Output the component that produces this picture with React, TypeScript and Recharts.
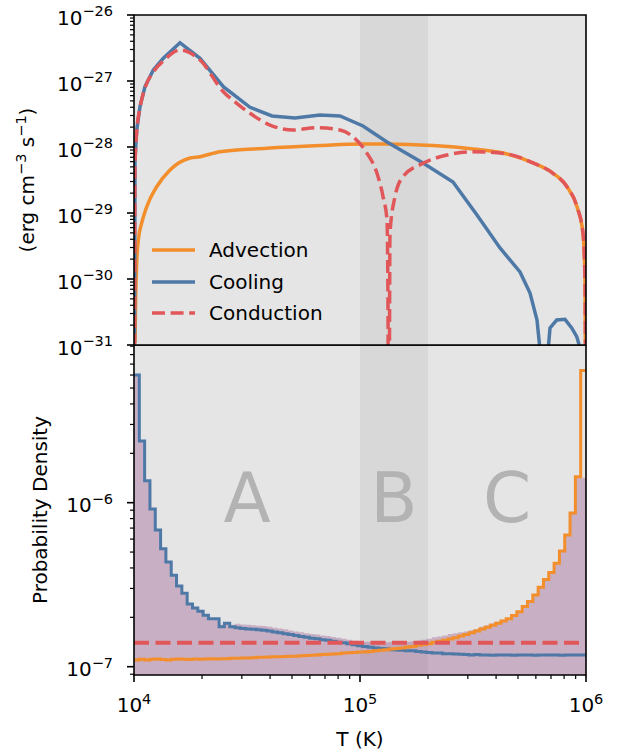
import React from 'react';
import {
  ComposedChart,
  Line,
  Area,
  XAxis,
  YAxis,
  CartesianGrid,
  ReferenceArea,
  ReferenceDot,
  Legend,
} from 'recharts';

const FONT = '"DejaVu Sans", sans-serif';
const BLUE = '#4e79a7';
const ORANGE = '#f28e2b';
const RED = '#e15759';
const BG = '#e5e5e5';
const BAND = '#d8d8d8';

// ---- top panel: heating / cooling rates ----
const ADV_T = [1.0102e4, 1.0175e4, 1.0279e4, 1.0448e4, 1.0816e4, 1.138e4, 1.2598e4, 1.4429e4, 1.7697e4, 1.959e4, 2.4022e4, 3.866e4, 6.653e4, 1e5, 1.3163e5, 2.104e5, 3.1623e5, 4.472e5, 5.829e5, 7.146e5, 8.238e5, 9.125e5, 9.699e5, 9.899e5, 1e6];
const ADV_V = [1.07e-31, 5.33e-31, 1.75e-30, 3.9e-30, 7.05e-30, 1.24e-29, 2.5e-29, 4.49e-29, 6.81e-29, 7.13e-29, 8.49e-29, 9.55e-29, 1.05e-28, 1.11e-28, 1.11e-28, 1.05e-28, 9.33e-29, 7.84e-29, 5.73e-29, 4.0e-29, 2.5e-29, 1.24e-29, 4.92e-30, 9.66e-31, 1e-33];

const COOL_T = [1.002e4, 1.0102e4, 1.0279e4, 1.063e4, 1.1184e4, 1.2175e4, 1.348e4, 1.5974e4, 1.959e4, 2.4843e4, 3.2614e4, 4.08e4, 5.158e4, 6.653e4, 8.156e4, 1.031e5, 1.3163e5, 1.9002e5, 2.579e5, 3.2935e5, 4.164e5, 5.105e5, 5.653e5, 6.071e5, 6.323e5, 6.586e5, 6.79e5, 6.931e5, 7.421e5, 8.074e5, 8.646e5, 9.099e5, 9.407e5, 9.699e5];
const COOL_V = [1e-33, 6.36e-29, 1.81e-28, 4.08e-28, 8.2e-28, 1.47e-27, 2.21e-27, 3.8e-27, 2.21e-27, 8.2e-28, 4.0e-28, 2.95e-28, 2.75e-28, 3.05e-28, 2.95e-28, 2.08e-28, 1.19e-28, 5.73e-29, 2.95e-29, 9.33e-30, 2.95e-30, 1.28e-30, 6.14e-31, 2.39e-31, 6e-32, 1e-33, 8e-32, 1.81e-31, 2.39e-31, 2.45e-31, 1.81e-31, 1.34e-31, 9e-32, 1e-33];

const COND_T = [1.002e4, 1.0102e4, 1.0279e4, 1.063e4, 1.1184e4, 1.2175e4, 1.348e4, 1.5974e4, 1.959e4, 2.4843e4, 2.848e4, 3.2614e4, 3.998e4, 5.07e4, 6.452e4, 8.156e4, 9.311e4, 1.0739e5, 1.1891e5, 1.2645e5, 1.3163e5, 1.3298e5, 1.3366e5, 1.3434e5, 1.3572e5, 1.4284e5, 1.5501e5, 1.9002e5, 2.4266e5, 3.1623e5, 4.472e5, 5.829e5, 7.146e5, 8.238e5, 9.125e5, 9.699e5, 9.899e5, 1e6];
const COND_V = [1e-33, 5.33e-29, 1.69e-28, 3.9e-28, 7.84e-28, 1.37e-27, 2.01e-27, 2.95e-27, 2.08e-27, 6.89e-28, 4.59e-28, 3.24e-28, 2.15e-28, 1.81e-28, 1.96e-28, 1.81e-28, 1.43e-28, 8.03e-29, 4.0e-29, 1.77e-29, 7.84e-30, 4.81e-31, 1e-33, 1e-33, 4.92e-30, 1.77e-29, 3.55e-29, 5.66e-29, 7.56e-29, 8.49e-29, 7.84e-29, 5.73e-29, 4.0e-29, 2.5e-29, 1.24e-29, 4.92e-30, 9.66e-31, 1e-33];

const TOP_TICKS = [
  1e-31, 2e-31, 3e-31, 4e-31, 5e-31, 6e-31, 7e-31, 8e-31, 9e-31,
  1e-30, 2e-30, 3e-30, 4e-30, 5e-30, 6e-30, 7e-30, 8e-30, 9e-30,
  1e-29, 2e-29, 3e-29, 4e-29, 5e-29, 6e-29, 7e-29, 8e-29, 9e-29,
  1e-28, 2e-28, 3e-28, 4e-28, 5e-28, 6e-28, 7e-28, 8e-28, 9e-28,
  1e-27, 2e-27, 3e-27, 4e-27, 5e-27, 6e-27, 7e-27, 8e-27, 9e-27,
  1e-26,
];

// ---- bottom panel: probability density histograms (85 log bins) ----
const N_BINS = 85;
const BIN_EDGES = Array.from({ length: N_BINS + 1 }, (_, i) => 10 ** (4 + (2 * i) / N_BINS));

const COOL_HIST = [
  6.0e-6, 2.38e-6, 1.36e-6, 9.15e-7, 6.82e-7, 5.24e-7, 4.35e-7, 3.61e-7, 3.11e-7, 2.8e-7,
  2.41e-7, 2.28e-7, 2.18e-7, 2.06e-7, 1.96e-7, 1.96e-7, 1.75e-7, 1.84e-7, 1.75e-7, 1.73e-7,
  1.71e-7, 1.7e-7, 1.69e-7, 1.68e-7, 1.67e-7, 1.65e-7, 1.63e-7, 1.61e-7, 1.59e-7, 1.57e-7,
  1.55e-7, 1.53e-7, 1.51e-7, 1.49e-7, 1.48e-7, 1.46e-7, 1.45e-7, 1.43e-7, 1.41e-7, 1.4e-7,
  1.38e-7, 1.36e-7, 1.34e-7, 1.33e-7, 1.315e-7, 1.3e-7, 1.29e-7, 1.285e-7, 1.27e-7, 1.265e-7,
  1.26e-7, 1.25e-7, 1.25e-7, 1.24e-7, 1.23e-7, 1.22e-7, 1.21e-7, 1.21e-7, 1.2e-7, 1.2e-7,
  1.195e-7, 1.19e-7, 1.185e-7, 1.18e-7, 1.185e-7, 1.18e-7, 1.18e-7, 1.175e-7, 1.18e-7, 1.18e-7,
  1.18e-7, 1.175e-7, 1.18e-7, 1.18e-7, 1.18e-7, 1.175e-7, 1.18e-7, 1.18e-7, 1.18e-7, 1.18e-7,
  1.175e-7, 1.18e-7, 1.18e-7, 1.18e-7, 1.18e-7,
];
const ADV_HIST = [
  1.1e-7, 1.11e-7, 1.1e-7, 1.11e-7, 1.115e-7, 1.105e-7, 1.1e-7, 1.11e-7, 1.115e-7, 1.11e-7,
  1.105e-7, 1.115e-7, 1.11e-7, 1.115e-7, 1.12e-7, 1.115e-7, 1.12e-7, 1.12e-7, 1.125e-7, 1.125e-7,
  1.13e-7, 1.13e-7, 1.135e-7, 1.14e-7, 1.14e-7, 1.145e-7, 1.15e-7, 1.15e-7, 1.155e-7, 1.16e-7,
  1.16e-7, 1.165e-7, 1.17e-7, 1.175e-7, 1.18e-7, 1.185e-7, 1.19e-7, 1.195e-7, 1.2e-7, 1.21e-7,
  1.215e-7, 1.22e-7, 1.23e-7, 1.23e-7, 1.24e-7, 1.25e-7, 1.26e-7, 1.27e-7, 1.28e-7, 1.29e-7,
  1.3e-7, 1.32e-7, 1.33e-7, 1.35e-7, 1.365e-7, 1.38e-7, 1.41e-7, 1.43e-7, 1.45e-7, 1.475e-7,
  1.5e-7, 1.54e-7, 1.57e-7, 1.61e-7, 1.65e-7, 1.7e-7, 1.74e-7, 1.79e-7, 1.84e-7, 1.9e-7,
  1.96e-7, 2.05e-7, 2.16e-7, 2.33e-7, 2.5e-7, 2.74e-7, 3.05e-7, 3.4e-7, 3.75e-7, 4.27e-7,
  5.07e-7, 6.35e-7, 8.66e-7, 1.44e-6, 6.4e-6,
];
const ALL_HIST = [
  6.0e-6, 2.38e-6, 1.36e-6, 9.15e-7, 6.82e-7, 5.24e-7, 4.35e-7, 3.61e-7, 3.11e-7, 2.8e-7,
  2.41e-7, 2.28e-7, 2.18e-7, 2.06e-7, 1.97e-7, 1.97e-7, 1.8e-7, 1.86e-7, 1.8e-7, 1.83e-7,
  1.81e-7, 1.8e-7, 1.79e-7, 1.78e-7, 1.77e-7, 1.75e-7, 1.73e-7, 1.71e-7, 1.69e-7, 1.66e-7,
  1.64e-7, 1.62e-7, 1.6e-7, 1.58e-7, 1.57e-7, 1.55e-7, 1.54e-7, 1.52e-7, 1.5e-7, 1.48e-7,
  1.46e-7, 1.44e-7, 1.43e-7, 1.42e-7, 1.42e-7, 1.41e-7, 1.41e-7, 1.41e-7, 1.42e-7, 1.42e-7,
  1.42e-7, 1.42e-7, 1.43e-7, 1.44e-7, 1.46e-7, 1.48e-7, 1.51e-7, 1.53e-7, 1.55e-7, 1.58e-7,
  1.6e-7, 1.62e-7, 1.64e-7, 1.67e-7, 1.7e-7, 1.75e-7, 1.79e-7, 1.84e-7, 1.88e-7, 1.93e-7,
  1.98e-7, 2.06e-7, 2.17e-7, 2.33e-7, 2.5e-7, 2.74e-7, 3.05e-7, 3.4e-7, 3.75e-7, 4.27e-7,
  5.07e-7, 6.35e-7, 8.66e-7, 1.42e-6, 1.42e-6,
];
const COND_LEVEL = 1.4e-7;

const BOTTOM_DOMAIN = [8.9e-8, 9.15e-6];
const BOTTOM_TICKS = [
  9e-8,
  1e-7, 2e-7, 3e-7, 4e-7, 5e-7, 6e-7, 7e-7, 8e-7, 9e-7,
  1e-6, 2e-6, 3e-6, 4e-6, 5e-6, 6e-6, 7e-6, 8e-6, 9e-6,
];
const X_TICKS = [
  1e4, 2e4, 3e4, 4e4, 5e4, 6e4, 7e4, 8e4, 9e4,
  1e5, 2e5, 3e5, 4e5, 5e5, 6e5, 7e5, 8e5, 9e5,
  1e6,
];

const REGION_LABELS = ['A', 'B', 'C'];
const REGION_CENTERS = [3.162e4, 1.414e5, 4.472e5];
const REGION_LABEL_Y = 1.08e-6;

const LEGEND_ITEMS = [
  { name: 'Advection', color: ORANGE, dash: undefined },
  { name: 'Cooling', color: BLUE, dash: undefined },
  { name: 'Conduction', color: RED, dash: '13 5.6' },
];

const toRows = (ts: number[], vs: number[]) => ts.map((T, i) => ({ T, v: vs[i] }));
const toSteps = (vs: number[]) => BIN_EDGES.map((T, i) => ({ T, v: vs[Math.min(i, vs.length - 1)] }));

const isMajor = (v: number) => {
  const e = Math.log10(v);
  return Math.abs(e - Math.round(e)) < 1e-6;
};
const expText = (v: number) => {
  const e = Math.round(Math.log10(v));
  return e < 0 ? '\u2212' + Math.abs(e) : String(e);
};

const YTick = (props: any) => {
  const { x, y, payload } = props;
  const major = isMajor(payload.value);
  return (
    <g>
      <line x1={x - (major ? 7 : 4)} x2={x} y1={y} y2={y} stroke="#000" strokeWidth={major ? 1.6 : 1.2} />
      {major && (
        <text x={x - 21} y={y + 9.5} textAnchor="end" fontFamily={FONT} fontSize={20} fill="#000">
          10<tspan dy={-8.3} fontSize={14.5}>{expText(payload.value)}</tspan>
        </text>
      )}
    </g>
  );
};

const XTick = (props: any) => {
  const { x, y, payload } = props;
  const major = isMajor(payload.value);
  return (
    <g>
      <line x1={x} x2={x} y1={y} y2={y + (major ? 7 : 4)} stroke="#000" strokeWidth={major ? 1.6 : 1.2} />
      {major && (
        <text x={x} y={y + 37} textAnchor="middle" fontFamily={FONT} fontSize={20} fill="#000">
          10<tspan dy={-8.3} fontSize={14.5}>{expText(payload.value)}</tspan>
        </text>
      )}
    </g>
  );
};

const TopYLabel = ({ viewBox }: any) => (
  <text
    transform={`translate(${viewBox.x + 34}, ${viewBox.y + viewBox.height / 2}) rotate(-90)`}
    textAnchor="middle"
    fontFamily={FONT}
    fontSize={20}
    fill="#000"
  >
    (erg cm<tspan dy={-8.3} fontSize={14.5}>{'\u22123'}</tspan>
    <tspan dy={8.3}> s</tspan>
    <tspan dy={-8.3} fontSize={14.5}>{'\u22121'}</tspan>
    <tspan dy={8.3}>)</tspan>
  </text>
);

const BottomYLabel = ({ viewBox }: any) => (
  <text
    transform={`translate(${viewBox.x + 47}, ${viewBox.y + 165}) rotate(-90)`}
    textAnchor="middle"
    fontFamily={FONT}
    fontSize={20}
    fill="#000"
  >
    Probability Density
  </text>
);

const XLabel = ({ viewBox }: any) => (
  <text x={viewBox.x + viewBox.width / 2} y={viewBox.y + 71} textAnchor="middle" fontFamily={FONT} fontSize={20} fill="#000">
    T (K)
  </text>
);

const renderLegend = () => (
  <div style={{ fontFamily: FONT, fontSize: 20, color: '#000' }}>
    {LEGEND_ITEMS.map((item) => (
      <div key={item.name} style={{ display: 'flex', alignItems: 'center', height: 31.7 }}>
        <svg width={58} height={10} style={{ display: 'block' }}>
          <line x1={1} x2={44} y1={5} y2={5} stroke={item.color} strokeWidth={3.5} strokeDasharray={item.dash} />
        </svg>
        <span style={{ lineHeight: '24px' }}>{item.name}</span>
      </div>
    ))}
  </div>
);

export default function App() {
  const advRows = toRows(ADV_T, ADV_V);
  const coolRows = toRows(COOL_T, COOL_V);
  const condRows = toRows(COND_T, COND_V);

  const coolSteps = toSteps(COOL_HIST);
  const advSteps = toSteps(ADV_HIST);
  const allSteps = toSteps(ALL_HIST);
  const condFlat = [
    { T: 1e4, v: COND_LEVEL },
    { T: 1e6, v: COND_LEVEL },
  ];

  return (
    <div style={{ position: 'absolute', left: 0, top: 0, width: 622, height: 754, background: '#fff' }}>
      <div style={{ position: 'absolute', left: 0, top: 345 }}>
        <ComposedChart width={622} height={409} margin={{ top: 0, right: 36, bottom: 0, left: 0 }}>
          <CartesianGrid horizontal={false} vertical={false} fill={BG} />
          <XAxis
            type="number"
            dataKey="T"
            scale="log"
            domain={[1e4, 1e6]}
            allowDataOverflow
            ticks={X_TICKS}
            interval={0}
            tick={<XTick />}
            tickLine={false}
            axisLine={false}
            tickSize={0}
            tickMargin={0}
            height={79}
            label={XLabel}
          />
          <YAxis
            type="number"
            scale="log"
            domain={BOTTOM_DOMAIN}
            allowDataOverflow
            width={134}
            ticks={BOTTOM_TICKS}
            interval={0}
            tick={<YTick />}
            tickLine={false}
            axisLine={false}
            tickSize={0}
            tickMargin={0}
            label={BottomYLabel}
          />
          <ReferenceArea x1={1e5} x2={2e5} fill={BAND} fillOpacity={1} stroke="none" zIndex={-50} />
          {REGION_LABELS.map((name, i) => (
            <ReferenceDot
              key={name}
              x={REGION_CENTERS[i]}
              y={REGION_LABEL_Y}
              r={0}
              fill="none"
              stroke="none"
              label={{ value: name, position: 'center', fontSize: 69, fill: '#b3b3b3', fontFamily: FONT }}
            />
          ))}
          <Area
            data={allSteps}
            dataKey="v"
            type="stepAfter"
            stroke="none"
            fill="#9f6092"
            fillOpacity={0.4}
            baseValue={BOTTOM_DOMAIN[0]}
            isAnimationActive={false}
          />
          <Line data={coolSteps} dataKey="v" type="stepAfter" stroke={BLUE} strokeWidth={3} dot={false} isAnimationActive={false} />
          <Line data={advSteps} dataKey="v" type="stepAfter" stroke={ORANGE} strokeWidth={3} dot={false} isAnimationActive={false} />
          <Line data={condFlat} dataKey="v" type="linear" stroke={RED} strokeWidth={4} strokeDasharray="15 6.5" dot={false} isAnimationActive={false} />
          <ReferenceArea x1={1e4} x2={1e6} y1={BOTTOM_DOMAIN[0]} y2={BOTTOM_DOMAIN[1]} fill="none" stroke="#000" strokeWidth={1.6} zIndex={600} />
        </ComposedChart>
      </div>

      <div style={{ position: 'absolute', left: 0, top: 0 }}>
        <ComposedChart width={622} height={362} margin={{ top: 15, right: 36, bottom: 17, left: 0 }}>
          <CartesianGrid horizontal={false} vertical={false} fill={BG} />
          <XAxis hide type="number" dataKey="T" scale="log" domain={[1e4, 1e6]} allowDataOverflow />
          <YAxis
            type="number"
            scale="log"
            domain={[1e-31, 1e-26]}
            allowDataOverflow
            width={134}
            ticks={TOP_TICKS}
            interval={0}
            tick={<YTick />}
            tickLine={false}
            axisLine={false}
            tickSize={0}
            tickMargin={0}
            label={TopYLabel}
          />
          <ReferenceArea x1={1e5} x2={2e5} fill={BAND} fillOpacity={1} stroke="none" zIndex={-50} />
          <Line data={advRows} dataKey="v" type="monotone" stroke={ORANGE} strokeWidth={3.5} dot={false} isAnimationActive={false} />
          <Line data={coolRows} dataKey="v" type="linear" stroke={BLUE} strokeWidth={3.5} dot={false} isAnimationActive={false} />
          <Line data={condRows} dataKey="v" type="monotone" stroke={RED} strokeWidth={3.5} strokeDasharray="13 5.6" dot={false} isAnimationActive={false} />
          <ReferenceArea x1={1e4} x2={1e6} y1={1e-31} y2={1e-26} fill="none" stroke="#000" strokeWidth={1.6} zIndex={600} />
          <Legend
            layout="vertical"
            align="center"
            verticalAlign="middle"
            content={renderLegend}
            wrapperStyle={{ left: 151, top: 234, width: 'auto', height: 'auto' }}
          />
        </ComposedChart>
      </div>
    </div>
  );
}
